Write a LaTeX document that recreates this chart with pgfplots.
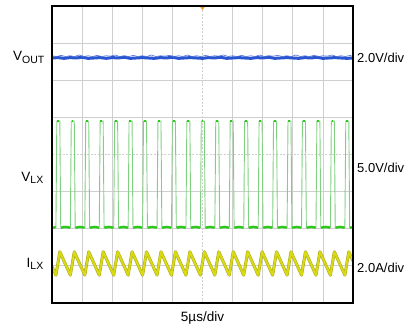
\documentclass[border=0pt]{standalone}
\usepackage{pgfplots}
\pgfplotsset{compat=1.18}
\usepackage{fontspec}
\setmainfont{Liberation Sans}
\definecolor{gridc}{HTML}{CFCFCF}
\definecolor{vout}{HTML}{2A55D0}
\definecolor{voutl}{HTML}{5070D8}
\definecolor{vlxl}{HTML}{7FD07F}
\definecolor{vlx}{HTML}{2CC81A}
\definecolor{ilx}{HTML}{DADA10}
\definecolor{ilxd}{HTML}{A8A828}
\definecolor{trig}{HTML}{F0A020}
\begin{document}
\begin{tikzpicture}
\useasboundingbox (-52pt,-27pt) rectangle (362pt,303pt);
\begin{axis}[
  at={(0,0)}, anchor=south west,
  scale only axis, width=301pt, height=297pt,
  xmin=0, xmax=10, ymin=0, ymax=8,
  xtick=\empty, ytick=\empty,
  axis line style={black, line width=2.2pt},
  axis on top,
  unbounded coords=jump,
  clip=true,
]
% grid
\draw[gridc, line width=0.8pt] (axis cs:1,0) -- (axis cs:1,8);
\draw[gridc, line width=0.8pt] (axis cs:2,0) -- (axis cs:2,8);
\draw[gridc, line width=0.8pt] (axis cs:3,0) -- (axis cs:3,8);
\draw[gridc, line width=0.8pt] (axis cs:4,0) -- (axis cs:4,8);
\draw[gridc, line width=0.8pt] (axis cs:6,0) -- (axis cs:6,8);
\draw[gridc, line width=0.8pt] (axis cs:7,0) -- (axis cs:7,8);
\draw[gridc, line width=0.8pt] (axis cs:8,0) -- (axis cs:8,8);
\draw[gridc, line width=0.8pt] (axis cs:9,0) -- (axis cs:9,8);
\draw[gridc, line width=0.8pt] (axis cs:0,1) -- (axis cs:10,1);
\draw[gridc, line width=0.8pt] (axis cs:0,2) -- (axis cs:10,2);
\draw[gridc, line width=0.8pt] (axis cs:0,3) -- (axis cs:10,3);
\draw[gridc, line width=0.8pt] (axis cs:0,5) -- (axis cs:10,5);
\draw[gridc, line width=0.8pt] (axis cs:0,6) -- (axis cs:10,6);
\draw[gridc, line width=0.8pt] (axis cs:0,7) -- (axis cs:10,7);
% centre lines
\draw[gridc, line width=0.8pt, dash pattern=on 2pt off 1.5pt] (axis cs:5,0) -- (axis cs:5,8);
\draw[gridc, line width=0.8pt, dash pattern=on 2pt off 1.5pt] (axis cs:0,4) -- (axis cs:10,4);
% VOUT
\addplot[vout, line width=3pt] coordinates {
(0,6.60)(0.2,6.61)(0.4,6.59)(0.6,6.61)(0.8,6.60)(1.0,6.62)(1.2,6.59)(1.4,6.60)(1.6,6.61)(1.8,6.59)
(2.0,6.61)(2.2,6.60)(2.4,6.62)(2.6,6.59)(2.8,6.60)(3.0,6.61)(3.2,6.60)(3.4,6.59)(3.6,6.61)(3.8,6.60)
(4.0,6.62)(4.2,6.59)(4.4,6.60)(4.6,6.61)(4.8,6.60)(5.0,6.59)(5.2,6.61)(5.4,6.60)(5.6,6.62)(5.8,6.59)
(6.0,6.60)(6.2,6.61)(6.4,6.60)(6.6,6.59)(6.8,6.61)(7.0,6.60)(7.2,6.62)(7.4,6.59)(7.6,6.60)(7.8,6.61)
(8.0,6.60)(8.2,6.59)(8.4,6.61)(8.6,6.60)(8.8,6.62)(9.0,6.59)(9.2,6.60)(9.4,6.61)(9.6,6.60)(9.8,6.59)(10,6.60)
};
\addplot[voutl, line width=0.6pt] coordinates {
(0,6.66)(0.15,6.64)(0.3,6.67)(0.45,6.64)(0.6,6.66)(0.75,6.64)(0.9,6.68)(1.05,6.64)(1.2,6.66)(1.35,6.64)
(1.5,6.67)(1.65,6.64)(1.8,6.66)(1.95,6.65)(2.1,6.68)(2.25,6.64)(2.4,6.66)(2.55,6.64)(2.7,6.67)(2.85,6.64)
(3.0,6.66)(3.15,6.64)(3.3,6.68)(3.45,6.64)(3.6,6.66)(3.75,6.65)(3.9,6.67)(4.05,6.64)(4.2,6.66)(4.35,6.64)
(4.5,6.68)(4.65,6.64)(4.8,6.66)(4.95,6.64)(5.1,6.67)(5.25,6.64)(5.4,6.66)(5.55,6.65)(5.7,6.68)(5.85,6.64)
(6.0,6.66)(6.15,6.64)(6.3,6.67)(6.45,6.64)(6.6,6.66)(6.75,6.64)(6.9,6.68)(7.05,6.64)(7.2,6.66)(7.35,6.65)
(7.5,6.67)(7.65,6.64)(7.8,6.66)(7.95,6.64)(8.1,6.68)(8.25,6.64)(8.4,6.66)(8.55,6.64)(8.7,6.67)(8.85,6.64)
(9.0,6.66)(9.15,6.65)(9.3,6.68)(9.45,6.64)(9.6,6.66)(9.75,6.64)(9.9,6.67)(10,6.64)
};
% VLX thin waveform
\addplot[vlxl, line width=0.9pt] coordinates {
(0,2.03)
(0.13,2.03)(0.16,4.9)(0.26,4.9)(0.29,2.03)
(0.61,2.03)(0.64,4.9)(0.74,4.9)(0.77,2.03)
(1.09,2.03)(1.12,4.9)(1.22,4.9)(1.25,2.03)
(1.57,2.03)(1.60,4.9)(1.70,4.9)(1.73,2.03)
(2.05,2.03)(2.08,4.9)(2.18,4.9)(2.21,2.03)
(2.53,2.03)(2.56,4.9)(2.66,4.9)(2.69,2.03)
(3.01,2.03)(3.04,4.9)(3.14,4.9)(3.17,2.03)
(3.49,2.03)(3.52,4.9)(3.62,4.9)(3.65,2.03)
(3.97,2.03)(4.00,4.9)(4.10,4.9)(4.13,2.03)
(4.45,2.03)(4.48,4.9)(4.58,4.9)(4.61,2.03)
(4.93,2.03)(4.96,4.9)(5.06,4.9)(5.09,2.03)
(5.41,2.03)(5.44,4.9)(5.54,4.9)(5.57,2.03)
(5.89,2.03)(5.92,4.9)(6.02,4.9)(6.05,2.03)
(6.37,2.03)(6.40,4.9)(6.50,4.9)(6.53,2.03)
(6.85,2.03)(6.88,4.9)(6.98,4.9)(7.01,2.03)
(7.33,2.03)(7.36,4.9)(7.46,4.9)(7.49,2.03)
(7.81,2.03)(7.84,4.9)(7.94,4.9)(7.97,2.03)
(8.29,2.03)(8.32,4.9)(8.42,4.9)(8.45,2.03)
(8.77,2.03)(8.80,4.9)(8.90,4.9)(8.93,2.03)
(9.25,2.03)(9.28,4.9)(9.38,4.9)(9.41,2.03)
(9.73,2.03)(9.76,4.9)(9.86,4.9)(9.89,2.03)
(10,2.03)
};
% VLX bright low level
\addplot[vlx, line width=2.4pt] coordinates {
(0,2.03)(0.12,2.04)(0.13,nan)
(0.30,2.03)(0.45,2.05)(0.60,2.03)(0.61,nan)
(0.78,2.03)(0.93,2.05)(1.08,2.03)(1.09,nan)
(1.26,2.03)(1.41,2.05)(1.56,2.03)(1.57,nan)
(1.74,2.03)(1.89,2.05)(2.04,2.03)(2.05,nan)
(2.22,2.03)(2.37,2.05)(2.52,2.03)(2.53,nan)
(2.70,2.03)(2.85,2.05)(3.00,2.03)(3.01,nan)
(3.18,2.03)(3.33,2.05)(3.48,2.03)(3.49,nan)
(3.66,2.03)(3.81,2.05)(3.96,2.03)(3.97,nan)
(4.14,2.03)(4.29,2.05)(4.44,2.03)(4.45,nan)
(4.62,2.03)(4.77,2.05)(4.92,2.03)(4.93,nan)
(5.10,2.03)(5.25,2.05)(5.40,2.03)(5.41,nan)
(5.58,2.03)(5.73,2.05)(5.88,2.03)(5.89,nan)
(6.06,2.03)(6.21,2.05)(6.36,2.03)(6.37,nan)
(6.54,2.03)(6.69,2.05)(6.84,2.03)(6.85,nan)
(7.02,2.03)(7.17,2.05)(7.32,2.03)(7.33,nan)
(7.50,2.03)(7.65,2.05)(7.80,2.03)(7.81,nan)
(7.98,2.03)(8.13,2.05)(8.28,2.03)(8.29,nan)
(8.46,2.03)(8.61,2.05)(8.76,2.03)(8.77,nan)
(8.94,2.03)(9.09,2.05)(9.24,2.03)(9.25,nan)
(9.42,2.03)(9.57,2.05)(9.72,2.03)(9.73,nan)
(9.90,2.03)(10,2.04)
};
% VLX bright tops
\addplot[vlx, line width=1.8pt] coordinates {
(0.17,4.9)(0.23,4.9)(0.24,nan)
(0.65,4.9)(0.71,4.9)(0.72,nan)
(1.13,4.9)(1.19,4.9)(1.20,nan)
(1.61,4.9)(1.67,4.9)(1.68,nan)
(2.09,4.9)(2.15,4.9)(2.16,nan)
(2.57,4.9)(2.63,4.9)(2.64,nan)
(3.05,4.9)(3.11,4.9)(3.12,nan)
(3.53,4.9)(3.59,4.9)(3.60,nan)
(4.01,4.9)(4.07,4.9)(4.08,nan)
(4.49,4.9)(4.55,4.9)(4.56,nan)
(4.97,4.9)(5.03,4.9)(5.04,nan)
(5.45,4.9)(5.51,4.9)(5.52,nan)
(5.93,4.9)(5.99,4.9)(6.00,nan)
(6.41,4.9)(6.47,4.9)(6.48,nan)
(6.89,4.9)(6.95,4.9)(6.96,nan)
(7.37,4.9)(7.43,4.9)(7.44,nan)
(7.85,4.9)(7.91,4.9)(7.92,nan)
(8.33,4.9)(8.39,4.9)(8.40,nan)
(8.81,4.9)(8.87,4.9)(8.88,nan)
(9.29,4.9)(9.35,4.9)(9.36,nan)
(9.77,4.9)(9.83,4.9)
};
% ILX
\pgfplotstableread{
x y
0 0.98
0.13 0.75
0.26 1.38
0.61 0.75
0.74 1.38
1.09 0.75
1.22 1.38
1.57 0.75
1.70 1.38
2.05 0.75
2.18 1.38
2.53 0.75
2.66 1.38
3.01 0.75
3.14 1.38
3.49 0.75
3.62 1.38
3.97 0.75
4.10 1.38
4.45 0.75
4.58 1.38
4.93 0.75
5.06 1.38
5.41 0.75
5.54 1.38
5.89 0.75
6.02 1.38
6.37 0.75
6.50 1.38
6.85 0.75
6.98 1.38
7.33 0.75
7.46 1.38
7.81 0.75
7.94 1.38
8.29 0.75
8.42 1.38
8.77 0.75
8.90 1.38
9.25 0.75
9.38 1.38
9.73 0.75
9.86 1.38
10 1.13
}\ilxdata
\addplot[ilxd, line width=3pt, line join=round] table[x=x,y=y] {\ilxdata};
\addplot[ilx, line width=2pt, line join=round] table[x=x,y=y] {\ilxdata};
% trigger marker
\fill[trig] (axis cs:5,8) ++(-3pt,0) -- ++(6pt,0) -- ++(-3pt,-4pt) -- cycle;
\end{axis}
% labels
\node[anchor=east, font=\fontsize{13.5}{15}\selectfont, inner sep=0pt] at (-7pt,245.5pt) {V\textsubscript{\fontsize{10.5}{12}\selectfont OUT}};
\node[anchor=east, font=\fontsize{13.5}{15}\selectfont, inner sep=0pt] at (-8pt,125pt) {V\textsubscript{\fontsize{10.5}{12}\selectfont LX}};
\node[anchor=east, font=\fontsize{13.5}{15}\selectfont, inner sep=0pt] at (-8pt,39pt) {I\textsubscript{\fontsize{10.5}{12}\selectfont LX}};
\node[anchor=west, font=\fontsize{13}{15}\selectfont, inner sep=0pt] at (305pt,245pt) {2.0V/div};
\node[anchor=west, font=\fontsize{13}{15}\selectfont, inner sep=0pt] at (305pt,135pt) {5.0V/div};
\node[anchor=west, font=\fontsize{13}{15}\selectfont, inner sep=0pt] at (305pt,35.5pt) {2.0A/div};
\node[font=\fontsize{13.5}{15}\selectfont, inner sep=0pt] at (150.5pt,-15pt) {5µs/div};
\node[anchor=base east, font=\fontsize{9}{11}\selectfont, inner sep=0pt] at (300pt,304.5pt) {t0035};
\end{tikzpicture}
\end{document}
